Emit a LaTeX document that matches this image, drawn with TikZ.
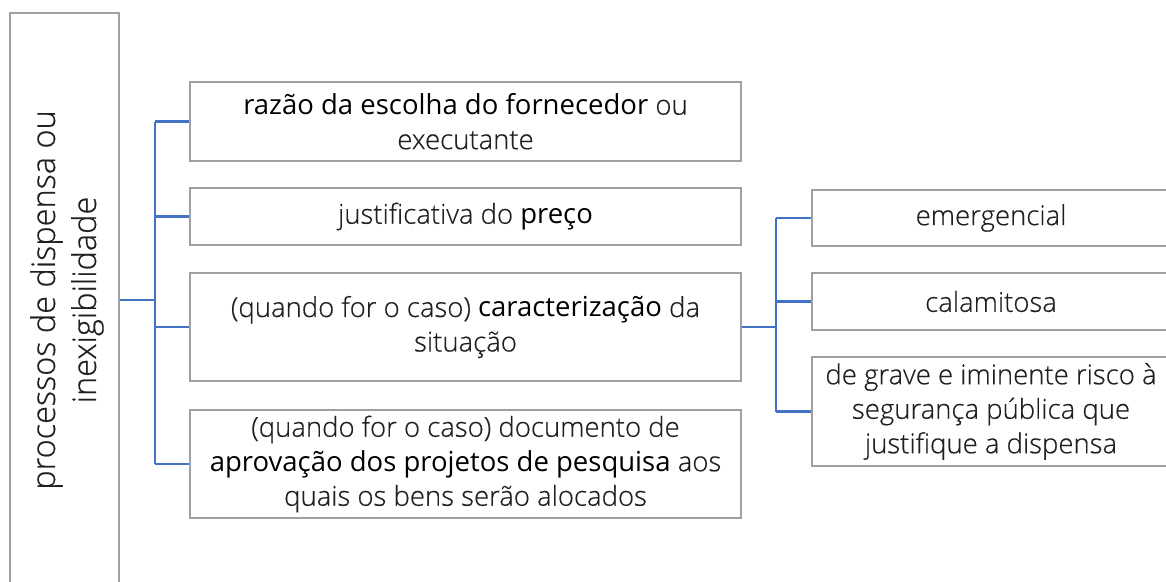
\documentclass[tikz,border=0pt]{standalone}
\usepackage{fontspec}
\IfFontExistsTF{Open Sans Light}{%
  \setmainfont{Open Sans Light}[UprightFeatures={FakeBold=0.5}, BoldFont={Open Sans}]%
}{%
  \setmainfont{Open Sans}%
}
\definecolor{connblue}{RGB}{68,114,196}
\definecolor{boxline}{RGB}{160,160,160}
\definecolor{txtgray}{RGB}{32,32,32}
\newcommand\boldtxt[1]{\textcolor{black}{\textbf{#1}}}
\begin{document}
\begin{tikzpicture}[x=1pt,y=-1pt,
  box/.style={draw=boxline, line width=1.3pt, align=center, inner sep=0pt,
    text=txtgray, font=\fontsize{27.5}{34.5}\selectfont},
  conn/.style={draw=connblue, line width=2.2pt}]
\useasboundingbox (0,0) rectangle (1166,581);
\begin{scope}
\clip (0,0) rectangle (1166,581);
\node[box, minimum width=109pt, minimum height=574pt] (left) at (64.5,300) {};
\node[txtgray, align=center, rotate=90, font=\fontsize{32.5}{41}\selectfont] (lefttxt) at (67,300) {processos de dispensa ou\\inexigibilidade};
\node[box, minimum width=551pt, minimum height=79pt] (b1) at (465.5,121.5) {\boldtxt{razão da escolha do fornecedor} ou\\executante};
\node[box, minimum width=551pt, minimum height=57pt] (b2) at (465.5,216.5) {justificativa do \boldtxt{preço}};
\node[box, minimum width=551pt, minimum height=108pt] (b3) at (465.5,327) {(quando for o caso) \boldtxt{caracterização} da\\situação};
\node[box, minimum width=551pt, minimum height=108pt] (b4) at (465.5,464) {(quando for o caso) documento de\\\boldtxt{aprovação dos projetos de pesquisa} aos\\quais os bens serão alocados};
\node[box, minimum width=358pt, minimum height=56pt] (r1) at (991,218) {emergencial};
\node[box, minimum width=358pt, minimum height=57pt] (r2) at (991,301.5) {calamitosa};
\node[box, minimum width=358pt, minimum height=109pt] (r3) at (991,411.5) {de grave e iminente risco à\\segurança pública que\\justifique a dispensa};
\coordinate (j1) at (155,300);
\coordinate (j2) at (776,327);
\draw[conn] (left.east) -- (j1);
\draw[conn] (j1 |- b1.west) -- (j1 |- b4.west);
\foreach \n in {b1,b2,b3,b4} \draw[conn] (j1 |- \n.west) -- (\n.west);
\draw[conn] (b3.east) -- (j2);
\draw[conn] (j2 |- r1.west) -- (j2 |- r3.west);
\foreach \n in {r1,r2,r3} \draw[conn] (j2 |- \n.west) -- (\n.west);
\end{scope}
\end{tikzpicture}
\end{document}
